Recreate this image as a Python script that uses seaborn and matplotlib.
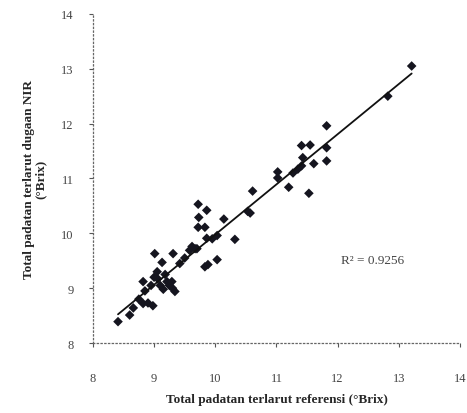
import numpy as np
import pandas as pd
import matplotlib
matplotlib.use('Agg')
import matplotlib.pyplot as plt
import seaborn as sns

# Brix referensi vs dugaan NIR
brix_ref = [8.41, 8.60, 8.66, 8.75, 8.82, 8.90, 8.98, 8.85, 8.82, 8.95,
            9.01, 9.13, 9.31, 9.05, 9.00, 9.06, 9.10, 9.15, 9.21, 9.18,
            9.25, 9.29, 9.34, 9.30, 9.42, 9.50, 9.58, 9.62, 9.67, 9.70,
            9.83, 9.88, 10.03, 9.72, 9.86, 9.73, 10.14, 9.72, 9.83, 9.86,
            10.03, 9.95, 10.32, 10.53, 10.61, 10.57, 11.02, 11.02, 11.20, 11.27,
            11.35, 11.41, 11.43, 11.41, 11.55, 11.53, 11.61, 11.82, 11.82, 11.82,
            12.82, 13.21]
brix_nir = [8.39, 8.51, 8.64, 8.80, 8.72, 8.73, 8.68, 8.95, 9.12, 9.05,
            9.63, 9.47, 9.63, 9.30, 9.20, 9.17, 9.05, 8.98, 9.12, 9.25,
            9.05, 9.12, 8.94, 9.00, 9.45, 9.55, 9.69, 9.76, 9.72, 9.72,
            9.39, 9.43, 9.52, 10.53, 10.42, 10.29, 10.26, 10.11, 10.11, 9.91,
            9.96, 9.90, 9.89, 10.40, 10.77, 10.37, 11.12, 11.01, 10.84, 11.10,
            11.17, 11.23, 11.38, 11.60, 11.61, 10.73, 11.27, 11.32, 11.56, 11.96,
            12.50, 13.05]
ticks = [8, 9, 10, 11, 12, 13, 14]
r2_text = 'R² = 0.9256'

df = pd.DataFrame({'ref': brix_ref, 'nir': brix_nir})

sns.set_style('white')
plt.rcParams['font.family'] = ['Liberation Serif', 'DejaVu Serif']

fig = plt.figure(figsize=(4.67, 4.14), dpi=100)
ax = fig.add_axes([0.199, 0.169, 0.786, 0.795])

sns.regplot(data=df, x='ref', y='nir', ci=None, marker='D', ax=ax,
            scatter_kws={'s': 24, 'color': '#15151f', 'edgecolor': 'none', 'alpha': 1},
            line_kws={'color': '#111111', 'lw': 1.3})

ax.set_xlim(8, 14)
ax.set_ylim(8, 14)
ax.set_xticks(ticks)
ax.set_yticks(ticks)
ax.tick_params(axis='both', bottom=True, left=True, labelsize=9,
               labelcolor='#444444', length=3, width=0.8,
               color='#555555', direction='out')
ax.tick_params(axis='x', pad=18)
ax.tick_params(axis='y', pad=11)

for s in ['top', 'right']:
    ax.spines[s].set_visible(False)
for s in ['left', 'bottom']:
    ax.spines[s].set_linestyle((0, (1, 2)))
    ax.spines[s].set_color('#666666')
    ax.spines[s].set_linewidth(0.9)

ax.text(12.05, 9.45, r2_text, fontsize=9.5, color='#444444')

ax.set_xlabel('Total padatan terlarut referensi (°Brix)', fontsize=9.5,
              fontweight='bold', labelpad=6)
ax.set_ylabel('Total padatan terlarut dugaan NIR\n(°Brix)', fontsize=9.5,
              fontweight='bold', labelpad=10, linespacing=1.0)

fig.savefig('out.png', dpi=100)
